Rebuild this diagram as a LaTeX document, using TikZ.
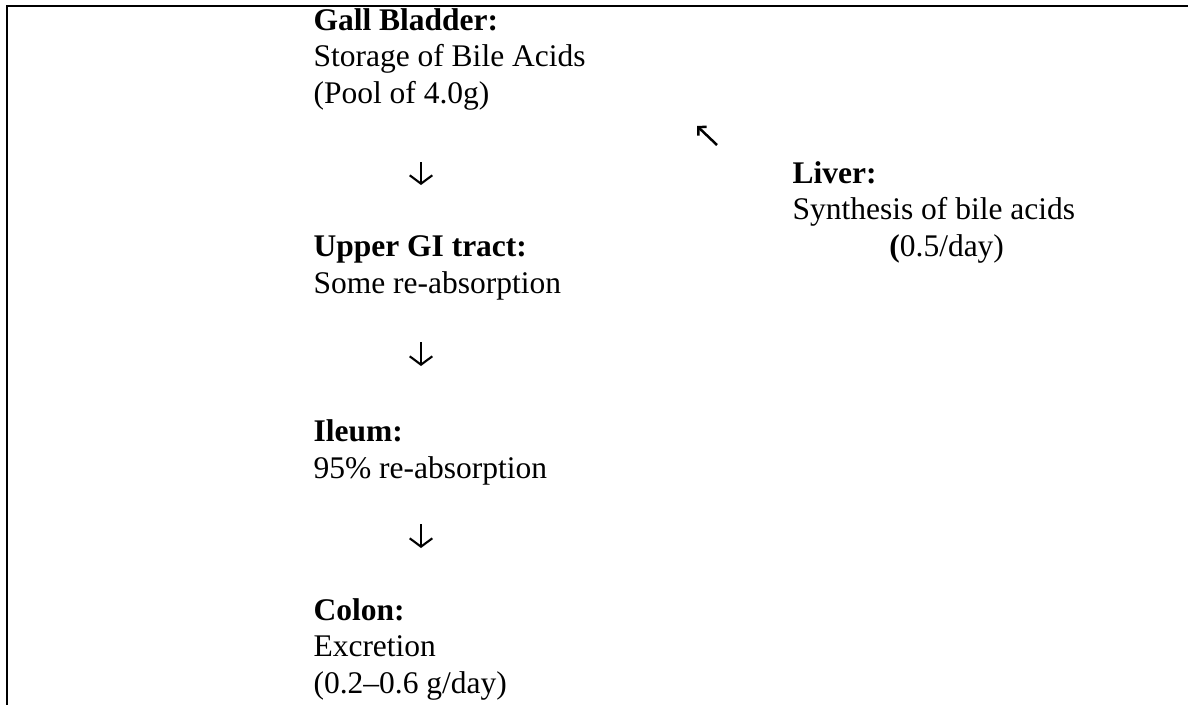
\documentclass[tikz,border=0pt]{standalone}
\usepackage{fontspec}
\setmainfont{Liberation Serif}
\usetikzlibrary{arrows.meta}
\begin{document}
\begin{tikzpicture}[x=0.381pt,y=-0.381pt,
  txt/.style={anchor=base west,inner sep=0pt,align=left,
    font=\fontsize{12}{13.75}\selectfont},
  downarr/.style={line width=0.8pt,-{Straight Barb[length=3.2pt,width=8.6pt]}},
  diagarr/.style={line width=0.95pt,-{Straight Barb[length=2.2pt,width=4.6pt]}},
  frame/.style={line width=0.76pt}]
\useasboundingbox (0,0) rectangle (1188,705);
% frame
\coordinate (tr) at (1188,6);
\coordinate (tl) at (7,6);
\coordinate (bl) at (7,705);
\draw[frame] (tr) -- (tl) -- (bl);
% text blocks (anchored at the baseline of their last line)
\node[txt] (gb) at (313,103) {\textbf{Gall Bladder:}\\Storage of Bile Acids\\(Pool of 4.0g)};
\node[txt] (ugi) at (313,293) {\textbf{Upper GI tract:}\\Some re-absorption};
\node[txt] (ile) at (313,478) {\textbf{Ileum:}\\95\% re-absorption};
\node[txt] (col) at (313,693) {\textbf{Colon:}\\Excretion\\(0.2--0.6 g/day)};
\node[txt] (liv) at (792,256) {\textbf{Liver:}\\Synthesis of bile acids\\\hspace{36.9pt}\textbf{(}0.5/day)};
% arrows
\coordinate (a1s) at (421,162);
\coordinate (a1e) at (421,185);
\coordinate (a2s) at (421,342);
\coordinate (a2e) at (421,366);
\coordinate (a3s) at (421,524);
\coordinate (a3e) at (421,548);
\coordinate (a4s) at (717,145);
\coordinate (a4e) at (697,126);
\draw[downarr] (a1s) -- (a1e);
\draw[downarr] (a2s) -- (a2e);
\draw[downarr] (a3s) -- (a3e);
\draw[diagarr] (a4s) -- (a4e);
\end{tikzpicture}
\end{document}
